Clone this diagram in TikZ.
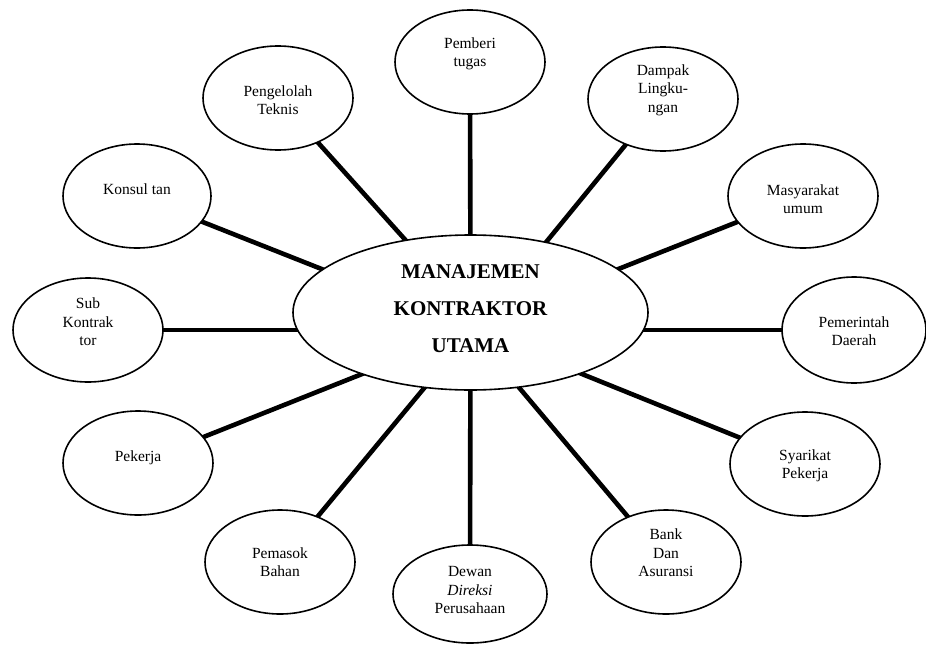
\documentclass[tikz,border=0pt]{standalone}
\usepackage{fontspec}
\setmainfont{Liberation Serif}
\usetikzlibrary{shapes.geometric,backgrounds}
\tikzset{
  sat/.style={ellipse, draw=black, line width=1.6pt, fill=white, inner sep=0pt,
              minimum width=150pt, minimum height=104pt},
  txt/.style={align=center, font=\fontsize{15.5}{18.5}\selectfont, inner sep=0pt},
  hub/.style={ellipse, draw=black, line width=1.6pt, fill=white, inner sep=0pt,
              minimum width=355pt, minimum height=155pt},
  hubtxt/.style={align=center, font=\fontsize{21}{37}\selectfont\bfseries, inner sep=0pt},
  link/.style={line width=4.6pt, draw=black}
}
\begin{document}
\begin{tikzpicture}[x=1pt, y=-1pt]
\useasboundingbox (0,0) rectangle (926,645);
\node[hub, label={[hubtxt, yshift=4pt]center:MANAJEMEN\\KONTRAKTOR\\UTAMA}] (main) at (470.5,312.5) {};
\node[sat, label={[txt, yshift=8pt]center:Pemberi\\tugas}] (pemberi) at (470,62) {};
\node[sat, label={[txt, yshift=-2pt]center:Pengelolah\\Teknis}] (pengelolah) at (278,98) {};
\node[sat, minimum width=148pt, label={[txt, yshift=7pt]center:Konsul tan}] (konsul) at (137,196) {};
\node[sat, label={[txt, yshift=8pt]center:Sub\\Kontrak\\tor}] (sub) at (88,330) {};
\node[sat, label={[txt, yshift=5pt]center:Pekerja}] (pekerja) at (138,463) {};
\node[sat, label={[txt]center:Pemasok\\Bahan}] (pemasok) at (280,562) {};
\node[sat, minimum width=154pt, minimum height=98pt, label={[txt, yshift=4pt]center:Dewan\\\textit{Direksi}\\Perusahaan}] (dewan) at (470,594) {};
\node[sat, label={[txt, yshift=9pt]center:Bank\\Dan\\Asuransi}] (bank) at (666,562) {};
\node[sat, label={[txt, yshift=-2pt]center:Syarikat\\Pekerja}] (syarikat) at (805,464) {};
\node[sat, minimum width=144pt, minimum height=106pt, label={[txt, yshift=-1pt]center:Pemerintah\\Daerah}] (pemerintah) at (854,330) {};
\node[sat, label={[txt, yshift=-3pt]center:Masyarakat\\umum}] (masyarakat) at (803,196) {};
\node[sat, label={[txt, yshift=9pt]center:Dampak\\Lingku-\\ngan}] (dampak) at (663,99) {};
\coordinate (tk) at (400,300);
\coordinate (tp) at (420,351);
\coordinate (tm) at (464,340);
\coordinate (tb) at (479,340);
\coordinate (ts) at (520,349);
\coordinate (ty) at (540,300);
\coordinate (td) at (507,290);
\begin{scope}[on background layer]
  \fill[white] (0,0) rectangle (926,645);
  \draw[link] (pemberi.center) -- (main.center);
  \draw[link] (pengelolah.center) -- (main.center);
  \draw[link] (konsul.center) -- (tk);
  \draw[link] (sub.center) -- (sub.center -| main.center);
  \draw[link] (pekerja.center) -- (tp);
  \draw[link] (pemasok.center) -- (tm);
  \draw[link] (dewan.center) -- (main.center);
  \draw[link] (bank.center) -- (tb);
  \draw[link] (syarikat.center) -- (ts);
  \draw[link] (pemerintah.center) -- (pemerintah.center -| main.center);
  \draw[link] (masyarakat.center) -- (ty);
  \draw[link] (dampak.center) -- (td);
\end{scope}
\end{tikzpicture}
\end{document}
